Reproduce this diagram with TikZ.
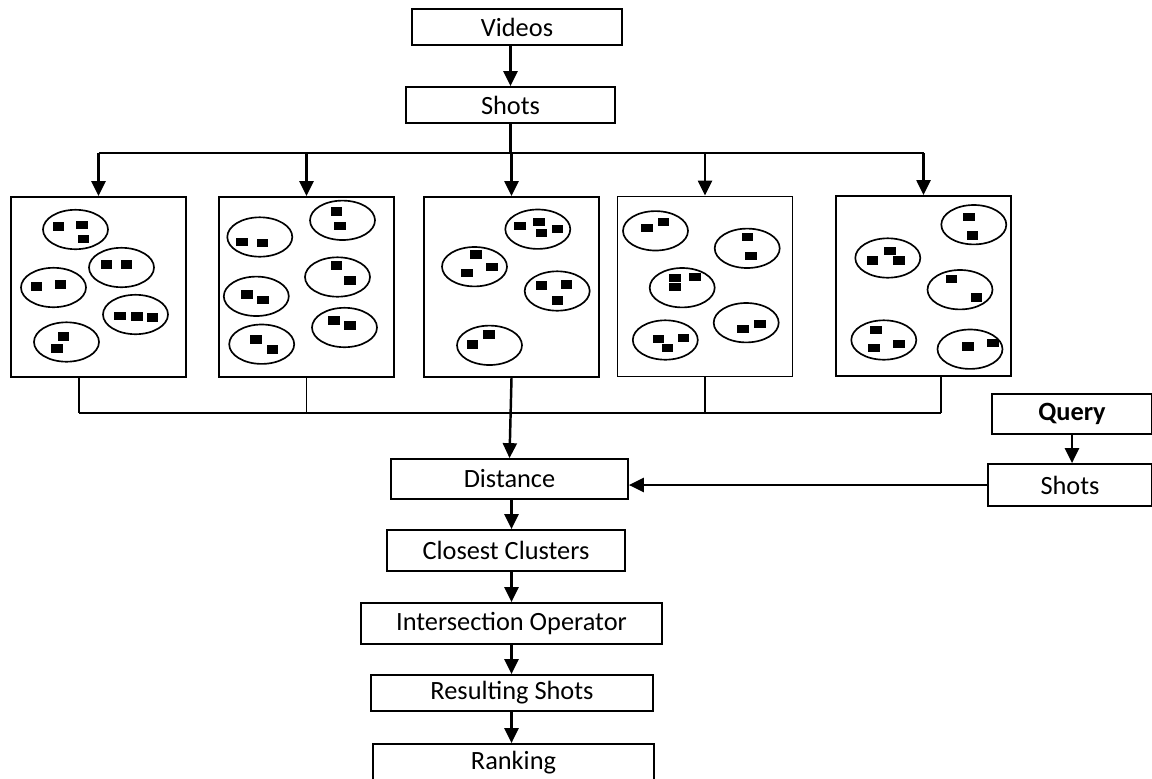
\documentclass[tikz,border=0pt]{standalone}
\usepackage{fontspec}
\setmainfont{Carlito}
\usetikzlibrary{arrows.meta, positioning, calc}

\begin{document}
\begin{tikzpicture}[x=0.02cm, y=-0.02cm, font=\fontsize{15}{18}\selectfont,
        box/.style={rectangle, draw, line width=1pt, inner sep=0pt},
        panel/.style={rectangle, draw, line width=1.1pt, minimum width=3.5cm, minimum height=3.6cm},
        arr/.style={-{Triangle[length=3mm, width=2.8mm]}, line width=1.4pt},
        bus/.style={line width=0.75pt},
        clu/.style={line width=0.95pt}]
    \useasboundingbox (0,0) rectangle (1152,778);
    % main chain
    \node[box, minimum width=4.2cm, minimum height=0.72cm] (videos) at (517,27) {Videos};
    \node[box, minimum width=4.18cm, minimum height=0.72cm] (shots) at (510.5,105) {Shots};
    \node[box, minimum width=4.74cm, minimum height=0.8cm] (dist) at (509.5,479) {Distance};
    \node[box, minimum width=4.76cm, minimum height=0.82cm] (clos) at (506,550.5) {Closest Clusters};
    \node[box, minimum width=6.02cm, minimum height=0.82cm] (inter) at (511.5,623.5) {Intersection Operator};
    \node[box, minimum width=5.64cm, minimum height=0.72cm] (res) at (512,693) {Resulting Shots};
    \node[box, minimum width=5.62cm, minimum height=0.76cm] (rank) at (513.5,763) {Ranking};
    % query side
    \node[box, minimum width=3.2cm, minimum height=0.8cm, font=\fontsize{15}{18}\selectfont\bfseries] (query) at (1072,414) {Query};
    \node[box, minimum width=3.28cm, minimum height=0.84cm] (qshots) at (1070,485) {Shots};
    % cluster panels
    \node[panel] (p1) at (98.5,287) {};
    \node[panel] (p2) at (306.5,287) {};
    \node[panel] (p3) at (511.5,287) {};
    \node[panel] (p4) at (705,286.5) {};
    \node[panel] (p5) at (923.5,286) {};

    \foreach \x/\y in {75.5/229.5, 121.5/267.5, 53.5/287.5, 135.5/314.5, 66.5/342,
                       342.5/220.3, 259.8/237, 337.5/277, 256.3/296.3, 344.5/327.5, 261.7/344.2,
                       537.8/229.2, 474.5/266.7, 557.2/291, 489.5/345.3,
                       655.5/230.8, 747.2/248.3, 682.2/287.7, 746.2/322.7, 665.3/340,
                       973.8/224.7, 887.8/258, 960/289.7, 883.8/340, 970/349.2}
        \draw[clu] (\x,\y) ellipse (32.5 and 19.7);
    \foreach \x/\y in {58.5/226.5, 82/225, 83.5/239, 106.5/264.5, 126.5/264.5,
                       36.5/286.5, 60.5/284.5, 120/316, 137/316.5, 152.5/317.5, 63.5/336.5, 57/348.5,
                       336.5/211.5, 340/226.2, 241.8/241.8, 262.5/243.2, 336.5/265.3, 350/280.3,
                       246.8/294.5, 263.2/300, 334.2/320.5, 350.2/325.3, 255.8/339.5, 272.5/349.5,
                       520.2/225.8, 539.2/221.7, 541.5/232.7, 557.5/229.2, 475.8/254.5, 491.8/267,
                       466.8/272.8, 541.5/285.5, 566.5/284.5, 557.5/300.3, 489.2/334.5, 472.5/344.5,
                       646.8/227.8, 663.5/222, 747.5/237.2, 750.8/256.2, 675.2/277.8, 695.2/276.7,
                       675.2/287.2, 743.2/328.8, 760.2/323.7, 658.5/339.2, 683.5/338, 667.5/347.8,
                       969.2/217, 972.5/235.3, 890.2/250.8, 872.5/260.3, 899.2/260.3, 951.5/279.2,
                       976.5/297.5, 875.8/329.7, 899.2/343.7, 874.2/348.2, 968.2/346.3, 993.2/342.8}
        \fill[shift={(\x,\y)}] (-5.8,-4.2) rectangle (5.8,4.2);

    % connectors
    \coordinate (top) at (0,153);
    \coordinate (low) at (0,413);
    \coordinate (o1) at (79,377);
    \coordinate (o5) at (941,377);
    \draw[arr] (videos.south -| shots) -- (shots.north);
    \draw[line width=1.4pt] (shots.south) -- (shots.south |- top);
    \draw[bus] (p1.north |- top) -- (p5.north |- top);
    \foreach \p in {p1, p2, p3, p4, p5}
        \draw[arr] (\p.north |- top) -- (\p.north);
    \draw[bus] (o1 |- low) -- (o5 |- low);
    \foreach \p in {o1, p2.south, p4.south, o5}
        \draw[bus] (\p) -- (\p |- low);
    \draw[arr] (p3.south) -- (dist.north);
    \draw[arr] (query.south) -- (query.south |- qshots.north);
    \draw[arr] (qshots.west) -- (qshots.west -| dist.east);
    \foreach \a/\b in {dist/clos, clos/inter, inter/res, res/rank}
        \draw[arr] (\a.south -| inter) -- (\b.north -| inter);
\end{tikzpicture}
\end{document}
